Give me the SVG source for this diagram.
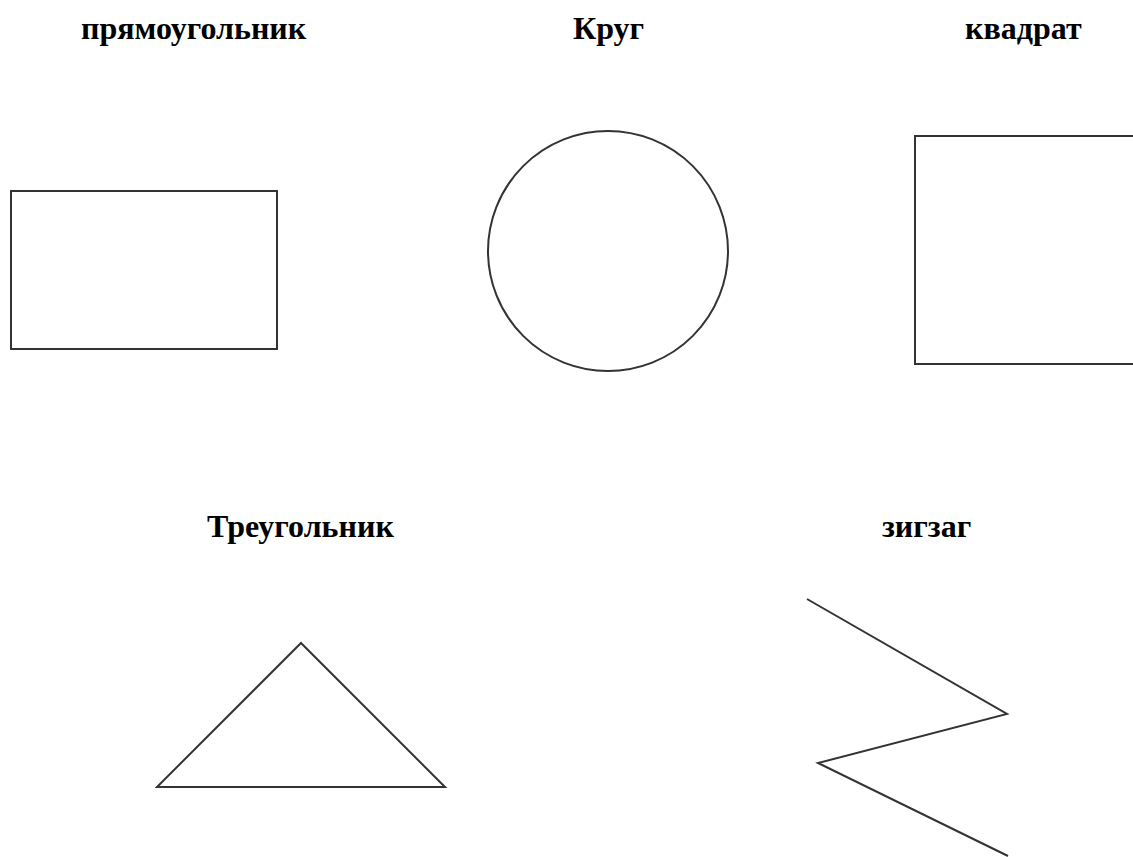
<svg xmlns="http://www.w3.org/2000/svg" width="1133" height="857" viewBox="0 0 1133 857">
<style>
.lbl{font-family:"Liberation Serif","Times New Roman",serif;font-weight:bold;font-size:32px;fill:#000}
.shp{fill:none;stroke:#333;stroke-width:2}
</style>
<rect width="1133" height="857" fill="#fff"/>
<g id="rect-node"><text class="lbl" x="81" y="39">прямоугольник</text><rect class="shp" x="11" y="191" width="266" height="158"/></g>
<g id="circle-node"><text class="lbl" x="573" y="39">Круг</text><circle class="shp" cx="608" cy="251" r="120"/></g>
<g id="square-node"><text class="lbl" x="965" y="39">квадрат</text><path class="shp" d="M1135,136 H915 V364 H1135"/></g>
<g id="triangle-node"><text class="lbl" x="207" y="537">Треугольник</text><polygon class="shp" points="301,643 445,787 157,787"/></g>
<g id="zigzag-node"><text class="lbl" x="882" y="537">зигзаг</text><polyline class="shp" points="807,599 1007,714 818,763 1008,856"/></g>
<g id="connectors"></g>
</svg>
